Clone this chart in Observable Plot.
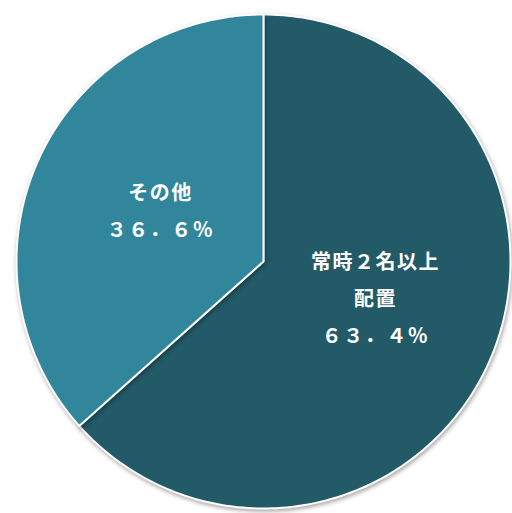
<!DOCTYPE html>
<html>
<head>
<meta charset="utf-8">
<script src="https://cdn.jsdelivr.net/npm/d3@7"></script>
<script src="https://cdn.jsdelivr.net/npm/@observablehq/plot@0.6"></script>
<style>
  html, body { margin: 0; padding: 0; background: #fff; }
  .pie path { filter: drop-shadow(1px 2px 2px rgba(0,0,0,0.35)); }
  .lbl text { letter-spacing: 1.5px; }
</style>
</head>
<body>
<div id="chart"></div>
<script>
const categories = ["常時２名以上\n配置", "その他"];
const values = [63.4, 36.6];
const valueLabels = ["６３．４％", "３６．６％"];
const colors = ["#225a68", "#31869c"];

const pie = d3.pie().sort(null).value(d => d.value);
const slices = pie(categories.map((c, i) => ({name: c, value: values[i], pct: valueLabels[i]})));

// build polygon outline points for each slice from its computed angles
const pts = [];
slices.forEach(s => {
  const n = 200;
  pts.push({name: s.data.name, x: 0, y: 0});
  for (let k = 0; k <= n; k++) {
    const a = s.startAngle + (s.endAngle - s.startAngle) * k / n;
    pts.push({name: s.data.name, x: Math.sin(a), y: Math.cos(a)});
  }
});

const k = 0.47;
const labelPos = slices.map(s => {
  const a = (s.startAngle + s.endAngle) / 2;
  return {name: s.data.name, text: s.data.name + "\n" + s.data.pct, x: k * Math.sin(a), y: k * Math.cos(a)};
});

const chart = Plot.plot({
  width: 512,
  height: 513,
  marginLeft: 16,
  marginRight: 2,
  marginTop: 14,
  marginBottom: 5,
  x: {domain: [-1, 1], axis: null},
  y: {domain: [-1, 1], axis: null},
  color: {domain: categories, range: colors},
  style: {fontFamily: "'Noto Sans CJK JP', sans-serif", background: "#fff"},
  marks: [
    Plot.line(pts, {x: "x", y: "y", z: "name", fill: "name", stroke: "white", strokeWidth: 2, curve: "linear-closed", className: "pie"}),
    Plot.text(labelPos.filter((d, i) => i === 0), {x: "x", y: "y", text: "text", fill: "white", fontSize: 20, fontWeight: "bold", lineHeight: 1.85, dy: -15, dx: 6, className: "lbl"}),
    Plot.text(labelPos.filter((d, i) => i === 1), {x: "x", y: "y", text: "text", fill: "white", fontSize: 20, fontWeight: "bold", lineHeight: 1.85, dy: -7, dx: 3, className: "lbl"})
  ]
});
document.getElementById("chart").appendChild(chart);
</script>
</body>
</html>
